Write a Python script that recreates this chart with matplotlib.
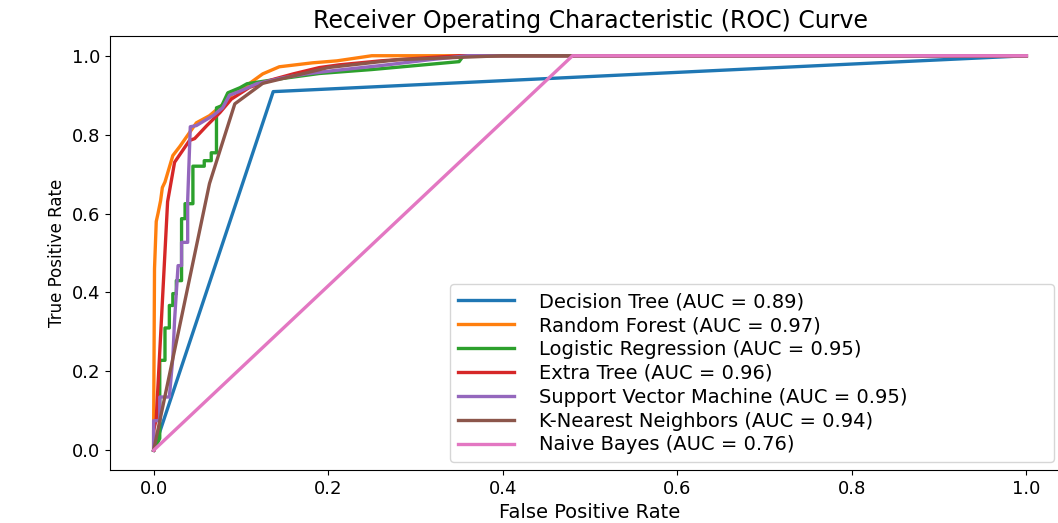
import matplotlib
matplotlib.use("Agg")
import matplotlib.pyplot as plt

# ROC points
dt_fpr = [0, 0.137, 1.0]
dt_tpr = [0, 0.909, 1.0]

rf_fpr = [0, 0.0, 0.001, 0.003, 0.005, 0.008, 0.010, 0.013, 0.022, 0.030, 0.049, 0.064,
          0.081, 0.091, 0.110, 0.125, 0.144, 0.182, 0.210, 0.250, 1.0]
rf_tpr = [0, 0.05, 0.46, 0.58, 0.60, 0.633, 0.666, 0.68, 0.747, 0.77, 0.83, 0.848,
          0.88, 0.904, 0.93, 0.954, 0.972, 0.982, 0.987, 1.0, 1.0]

lr_fpr = [0, 0.007, 0.007, 0.013, 0.013, 0.018, 0.018, 0.022, 0.022, 0.026, 0.026, 0.032,
          0.032, 0.036, 0.036, 0.045, 0.045, 0.058, 0.058, 0.066, 0.066, 0.072, 0.072,
          0.078, 0.085, 0.099, 0.107, 0.140, 0.190, 0.250, 0.300, 0.350, 0.355, 1.0]
lr_tpr = [0, 0.03, 0.228, 0.228, 0.31, 0.31, 0.367, 0.367, 0.397, 0.397, 0.43, 0.43,
          0.587, 0.587, 0.625, 0.625, 0.72, 0.72, 0.734, 0.734, 0.754, 0.754, 0.868,
          0.873, 0.906, 0.919, 0.929, 0.94, 0.955, 0.965, 0.975, 0.985, 1.0, 1.0]

et_fpr = [0, 0.0, 0.003, 0.016, 0.024, 0.041, 0.047, 0.061, 0.076, 0.089, 0.110, 0.137,
          0.160, 0.190, 0.213, 0.260, 0.300, 0.350, 1.0]
et_tpr = [0, 0.05, 0.08, 0.63, 0.73, 0.785, 0.79, 0.823, 0.856, 0.89, 0.92, 0.94,
          0.954, 0.97, 0.977, 0.987, 0.993, 1.0, 1.0]

svm_fpr = [0, 0.0, 0.007, 0.007, 0.018, 0.022, 0.024, 0.026, 0.028, 0.032, 0.032, 0.039,
           0.039, 0.042, 0.049, 0.058, 0.068, 0.079, 0.087, 0.099, 0.118, 0.148, 0.175,
           0.205, 0.260, 0.317, 0.360, 1.0]
svm_tpr = [0, 0.075, 0.075, 0.135, 0.135, 0.235, 0.33, 0.40, 0.468, 0.468, 0.527, 0.527,
           0.633, 0.82, 0.823, 0.835, 0.848, 0.868, 0.90, 0.91, 0.929, 0.944, 0.954,
           0.962, 0.975, 0.99, 1.0, 1.0]

knn_fpr = [0, 0.064, 0.093, 0.125, 0.200, 0.280, 0.400, 1.0]
knn_tpr = [0, 0.676, 0.878, 0.93, 0.97, 0.99, 1.0, 1.0]

nb_fpr = [0, 0.48, 1.0]
nb_tpr = [0, 1.0, 1.0]

models = ["Decision Tree", "Random Forest", "Logistic Regression", "Extra Tree",
          "Support Vector Machine", "K-Nearest Neighbors", "Naive Bayes"]
aucs = [0.89, 0.97, 0.95, 0.96, 0.95, 0.94, 0.76]
curves = [(dt_fpr, dt_tpr), (rf_fpr, rf_tpr), (lr_fpr, lr_tpr), (et_fpr, et_tpr),
          (svm_fpr, svm_tpr), (knn_fpr, knn_tpr), (nb_fpr, nb_tpr)]

fig = plt.figure(figsize=(10.58, 5.23), dpi=100)
# axes run past the right edge, as in the cropped reference
ax = fig.add_axes([110 / 1058, 53 / 523, 960 / 1058, 434 / 523])

for name, auc, (fpr, tpr) in zip(models, aucs, curves):
    ax.plot(fpr, tpr, lw=2.4, label=f"{name} (AUC = {auc:.2f})")

ax.set_title("Receiver Operating Characteristic (ROC) Curve", fontsize=17)
ax.set_xlabel("False Positive Rate", fontsize=14)
ax.set_ylabel("True Positive Rate", fontsize=12)
ax.tick_params(labelsize=13)

ax.legend(loc="lower left", bbox_to_anchor=(0.354, 0.018, 0.629, 0.41),
          mode="expand", borderaxespad=0, fontsize=14, labelspacing=0.25,
          handlelength=2.9, handletextpad=1.3)

fig.savefig("out.png", dpi=100)
